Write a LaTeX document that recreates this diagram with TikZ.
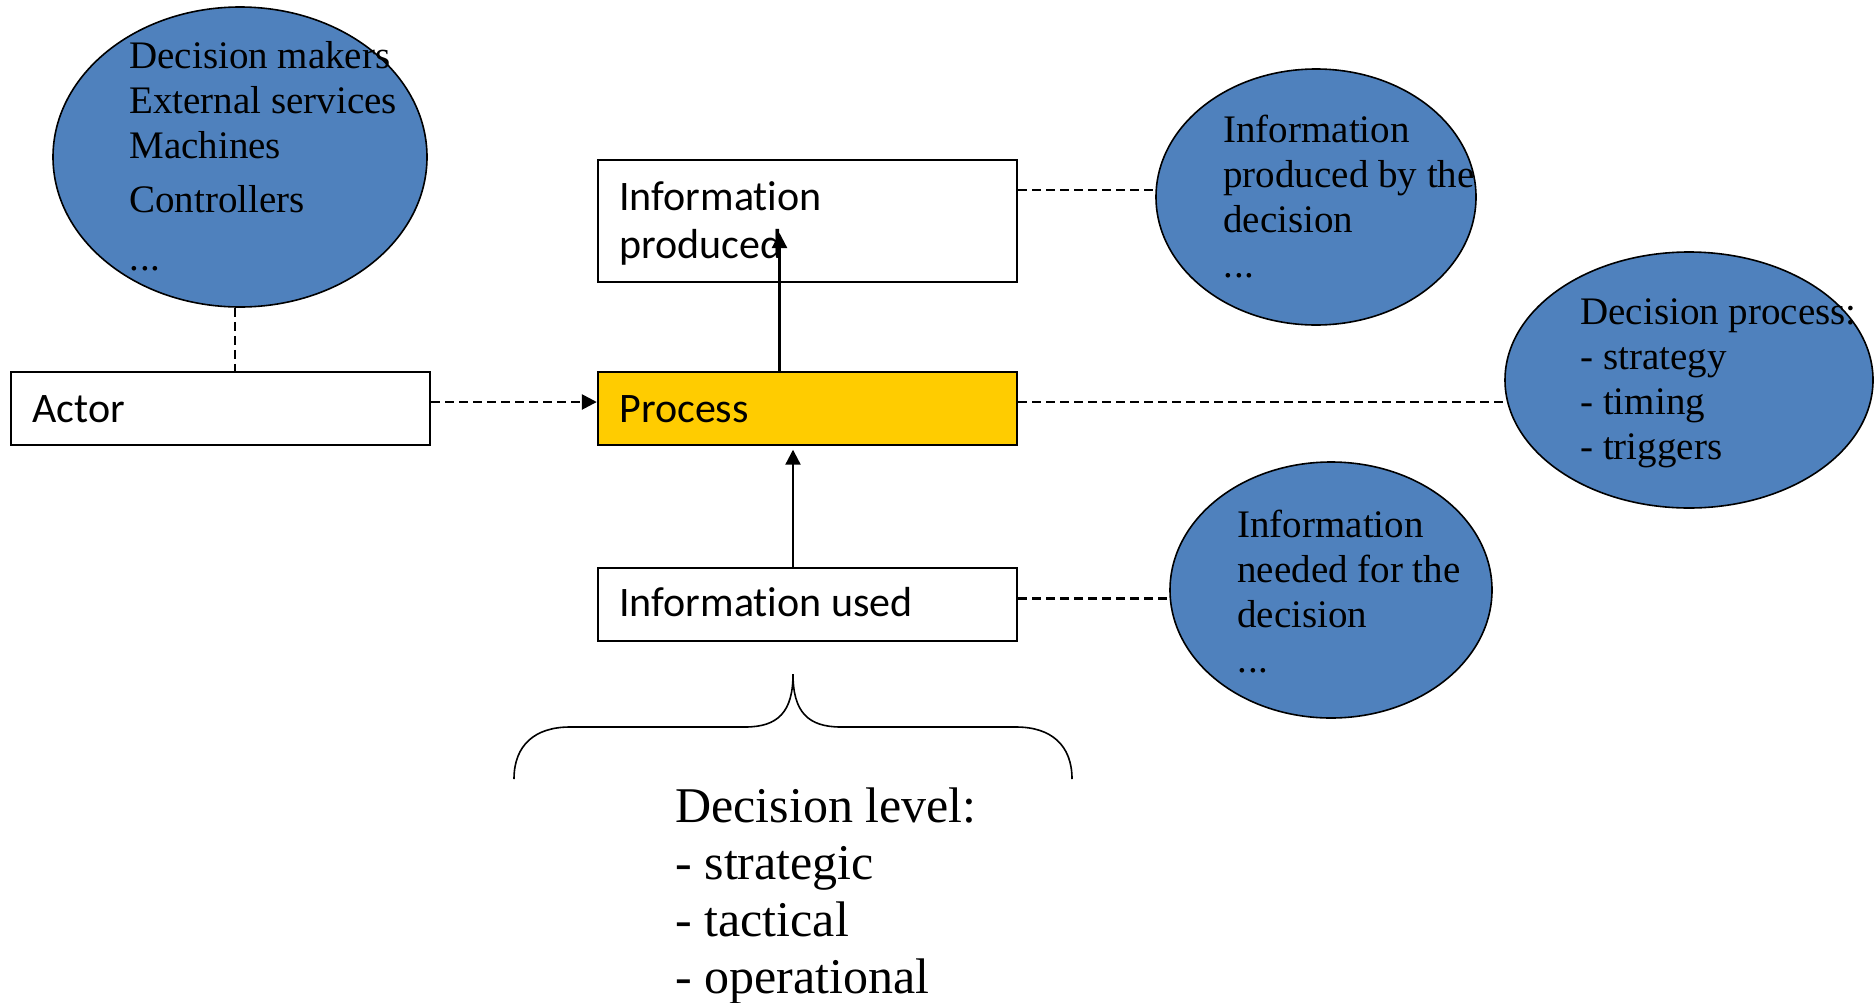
\documentclass[tikz,border=0pt]{standalone}
\usepackage{fontspec}
\setmainfont{Liberation Serif}
\newfontfamily\calibri[Ligatures=NoCommon]{Carlito}
\usetikzlibrary{shapes.geometric,arrows.meta}
\definecolor{blobblue}{HTML}{4F81BD}
\definecolor{procyellow}{HTML}{FFCC00}
\newcommand{\mylines}[1]{\begin{tabular}[t]{@{}l@{}}#1\end{tabular}}
\newcommand{\mydots}{\mbox{.\kern0.5pt.\kern0.5pt.}}
\pgfdeclarelayer{bg}
\pgfsetlayers{bg,main}
\begin{document}
\begin{tikzpicture}[x=0.5pt,y=-0.5pt,
  blob/.style={ellipse, draw, fill=blobblue, line width=0.8pt, inner sep=0pt},
  box/.style={rectangle, draw, fill=white, line width=1.2pt, minimum width=209.5pt, inner sep=0pt},
  etext/.style={anchor=base west, inner sep=0pt, font=\fontsize{19.5}{22.5}\selectfont},
  btext/.style={anchor=base west, inner sep=0pt, font=\calibri\fontsize{21}{24}\selectfont},
  ltext/.style={anchor=base west, inner sep=0pt, font=\fontsize{25}{28.5}\selectfont},
  dashline/.style={line width=1.1pt, dash pattern=on 4.5pt off 2.5pt},
  arr/.style={line width=1.1pt, -{Triangle[length=7.5pt,width=7.5pt]}}
]
\useasboundingbox (0,0) rectangle (1874,1002);

% ellipses
\node[blob, minimum width=187pt, minimum height=150pt] (e1) at (240,157) {};
\node[blob, minimum width=160pt, minimum height=128pt] (e2) at (1316,197) {};
\node[blob, minimum width=184pt, minimum height=128pt] (e3) at (1689,380) {};
\node[blob, minimum width=161pt, minimum height=128pt] (e4) at (1331,590) {};

% boxes
\node[box, minimum height=36.5pt] (actor) at (220.5,408.5) {};
\node[box, minimum height=61pt] (iprod) at (807.5,221) {};
\node[box, minimum height=36.5pt, fill=procyellow] (process) at (807.5,408.5) {};
\node[box, minimum height=36.5pt] (iused) at (807.5,604.5) {};

% box texts
\node[btext] (tactor) at (32,422) {Actor};
\node[btext] (tiprod) at (619,210) {\mylines{Information\\produced}};
\node[btext] (tprocess) at (619,422) {Process};
\node[btext] (tiused) at (619,616) {Information used};

% ellipse texts
\node[etext] (te1) at (129,68) {\mylines{Decision makers\\External services\\Machines\\[4.5pt]Controllers\\[6.5pt]\mydots}};
\node[etext] (te2) at (1223,142) {\mylines{Information\\produced by the\\decision\\\mydots}};
\node[etext] (te3) at (1580,324) {\mylines{Decision process:\\- strategy\\- timing\\- triggers}};
\node[etext] (te4) at (1237,537) {\mylines{Information\\needed for the\\decision\\\mydots}};

% decision level text
\node[ltext] (tlevel) at (675,822) {\mylines{Decision level:\\- strategic\\- tactical\\- operational}};

% dashed connectors (behind)
\coordinate (c1) at ([xshift=-2.5pt]e1.south);
\coordinate (c3) at ([yshift=3.25pt]process.east);
\coordinate (c4) at ([yshift=-15.5pt]iprod.north east);
\coordinate (c5) at ([yshift=3pt]iused.east);
\begin{pgfonlayer}{bg}
\draw[dashline] (c1) -- (c1 |- actor.north);
\draw[dashline] (c3) -- (c3 -| e3.center);
\draw[dashline] (c4) -- (c4 -| e2.center);
\draw[dashline] (c5) -- (c5 -| e4.center);
\end{pgfonlayer}

% actor -> process
\coordinate (c2) at ([yshift=3.25pt]actor.east);
\draw[dashline, line width=1.3pt, -{Triangle[length=7.5pt,width=7.5pt]}] (c2) -- (c2 -| process.west);

% solid arrows
\coordinate (c6) at ([xshift=-14pt]process.north);
\coordinate (c6t) at (779.5,233);
\draw[arr] (c6) -- (c6t);
\coordinate (c7) at ([xshift=-7.25pt]iused.north);
\draw[arr, shorten >=1.75pt] (c7) -- (c7 |- process.south);

% brace
\draw[line width=0.8pt] (514,779) .. controls (514,745) and (535,727) .. (570,727) -- (745,727)
  .. controls (778,727) and (793,712) .. (793,674)
  .. controls (793,712) and (808,727) .. (841,727) -- (1016,727)
  .. controls (1051,727) and (1072,745) .. (1072,779);
\end{tikzpicture}
\end{document}
